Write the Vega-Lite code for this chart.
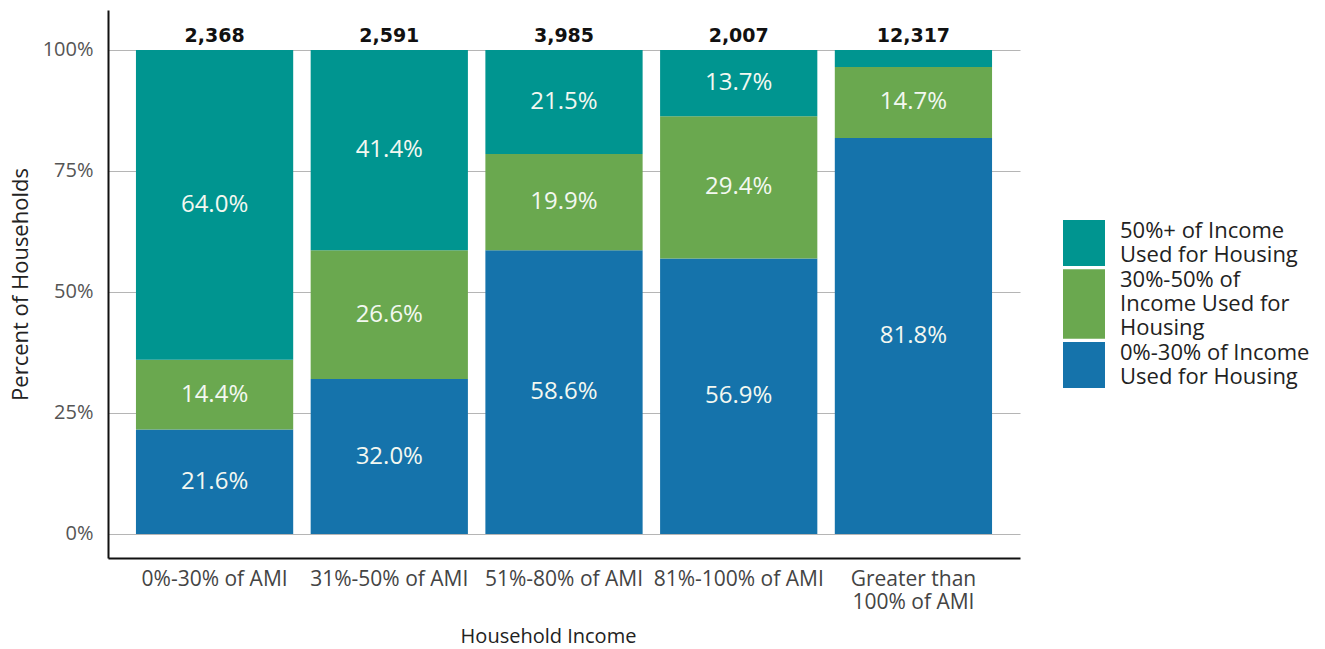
{
  "$schema": "https://vega.github.io/schema/vega-lite/v6.json",
  "width": 912,
  "height": 548,
  "autosize": {"type": "pad"},
  "padding": {"left": 9, "top": 10, "right": 5, "bottom": 5},
  "background": "white",
  "config": {"font": "Open Sans", "view": {"stroke": null}},
  "datasets": {
    "shares": [
      {"income": "0%-30% of AMI", "burden": "0%-30% of Income Used for Housing", "pct": 21.6},
      {"income": "0%-30% of AMI", "burden": "30%-50% of Income Used for Housing", "pct": 14.4},
      {"income": "0%-30% of AMI", "burden": "50%+ of Income Used for Housing", "pct": 64.0},
      {"income": "31%-50% of AMI", "burden": "0%-30% of Income Used for Housing", "pct": 32.0},
      {"income": "31%-50% of AMI", "burden": "30%-50% of Income Used for Housing", "pct": 26.6},
      {"income": "31%-50% of AMI", "burden": "50%+ of Income Used for Housing", "pct": 41.4},
      {"income": "51%-80% of AMI", "burden": "0%-30% of Income Used for Housing", "pct": 58.6},
      {"income": "51%-80% of AMI", "burden": "30%-50% of Income Used for Housing", "pct": 19.9},
      {"income": "51%-80% of AMI", "burden": "50%+ of Income Used for Housing", "pct": 21.5},
      {"income": "81%-100% of AMI", "burden": "0%-30% of Income Used for Housing", "pct": 56.9},
      {"income": "81%-100% of AMI", "burden": "30%-50% of Income Used for Housing", "pct": 29.4},
      {"income": "81%-100% of AMI", "burden": "50%+ of Income Used for Housing", "pct": 13.7},
      {"income": "Greater than 100% of AMI", "burden": "0%-30% of Income Used for Housing", "pct": 81.8},
      {"income": "Greater than 100% of AMI", "burden": "30%-50% of Income Used for Housing", "pct": 14.7},
      {"income": "Greater than 100% of AMI", "burden": "50%+ of Income Used for Housing", "pct": 3.5}
    ],
    "totals": [
      {"income": "0%-30% of AMI", "total": 2368},
      {"income": "31%-50% of AMI", "total": 2591},
      {"income": "51%-80% of AMI", "total": 3985},
      {"income": "81%-100% of AMI", "total": 2007},
      {"income": "Greater than 100% of AMI", "total": 12317}
    ]
  },
  "layer": [
    {
      "data": {"name": "shares"},
      "transform": [
        {"calculate": "indexof(['0%-30% of Income Used for Housing','30%-50% of Income Used for Housing','50%+ of Income Used for Housing'], datum.burden)", "as": "stackOrder"},
        {"stack": "pct", "groupby": ["income"], "sort": [{"field": "stackOrder", "order": "ascending"}], "as": ["y0", "y1"]}
      ],
      "mark": {"type": "bar"},
      "encoding": {
        "x": {
          "field": "income", "type": "nominal", "sort": null,
          "scale": {"paddingInner": 0.1, "paddingOuter": 0.16},
          "axis": {
            "title": "Household Income",
            "titleX": 440,
            "labelAngle": 0,
            "labelFontSize": 21,
            "labelColor": "#444",
            "labelPadding": 10,
            "labelLineHeight": 23,
            "labelExpr": "datum.label == 'Greater than 100% of AMI' ? ['Greater than', '100% of AMI'] : datum.label",
            "labelLimit": 300,
            "ticks": false,
            "domainColor": "#111",
            "domainWidth": 2,
            "titleFontSize": 20,
            "titleFontWeight": "normal",
            "titleColor": "#222",
            "titlePadding": 14
          }
        },
        "y": {
          "field": "y0", "type": "quantitative",
          "scale": {"domain": [-4.96, 108.26], "nice": false, "zero": false},
          "axis": {
            "title": "Percent of Households",
            "values": [0, 25, 50, 75, 100],
            "labelExpr": "datum.value + '%'",
            "labelFontSize": 20,
            "labelColor": "#555",
            "labelPadding": 15,
            "ticks": false,
            "domainColor": "#111",
            "domainWidth": 2,
            "gridColor": "#b5b5b5",
            "gridWidth": 1,
            "titleFontSize": 22,
            "titleFontWeight": "normal",
            "titleColor": "#222",
            "titlePadding": 10
          }
        },
        "y2": {"field": "y1"},
        "color": {
          "field": "burden", "type": "nominal",
          "scale": {
            "domain": ["50%+ of Income Used for Housing", "30%-50% of Income Used for Housing", "0%-30% of Income Used for Housing"],
            "range": ["#009590", "#6aa84f", "#1573ab"]
          },
          "legend": {
            "title": null,
            "orient": "none",
            "legendX": 955,
            "legendY": 212,
            "labelFontSize": 22,
            "labelColor": "#222",
            "labelLimit": 400,
            "labelOffset": 15,
            "labelLineHeight": 24,
            "symbolSize": 1764,
            "symbolStrokeWidth": 0,
            "symbolOpacity": 1,
            "rowPadding": 2,
            "labelExpr": "datum.label == '50%+ of Income Used for Housing' ? ['50%+ of Income', 'Used for Housing'] : datum.label == '30%-50% of Income Used for Housing' ? ['30%-50% of', 'Income Used for', 'Housing'] : ['0%-30% of Income', 'Used for Housing']",
            "encode": {
              "symbols": {
                "update": {
                  "shape": {"signal": "datum.value == '30%-50% of Income Used for Housing' ? 'M-1,-1.66H1V1.66H-1Z' : 'M-1,-1.1H1V1.1H-1Z'"}
                }
              },
              "labels": {
                "update": {
                  "dy": {"signal": "datum.value == '30%-50% of Income Used for Housing' ? -24 : -12"}
                }
              }
            }
          }
        }
      }
    },
    {
      "data": {"name": "shares"},
      "transform": [
        {"calculate": "indexof(['0%-30% of Income Used for Housing','30%-50% of Income Used for Housing','50%+ of Income Used for Housing'], datum.burden)", "as": "stackOrder"},
        {"stack": "pct", "groupby": ["income"], "sort": [{"field": "stackOrder", "order": "ascending"}], "as": ["y0", "y1"]},
        {"calculate": "(datum.y0 + datum.y1) / 2", "as": "ymid"},
        {"calculate": "format(datum.pct, '.1f') + '%'", "as": "label"},
        {"filter": "datum.pct >= 5"}
      ],
      "mark": {"type": "text", "fontSize": 24, "color": "#f3f8f1", "baseline": "middle"},
      "encoding": {
        "x": {"field": "income", "type": "nominal", "sort": null},
        "y": {"field": "ymid", "type": "quantitative"},
        "text": {"field": "label"}
      }
    },
    {
      "data": {"name": "totals"},
      "mark": {"type": "text", "font": "DejaVu Sans", "fontSize": 19, "fontWeight": "bold", "color": "#111", "baseline": "middle", "dy": -14},
      "encoding": {
        "x": {"field": "income", "type": "nominal", "sort": null},
        "y": {"datum": 100, "type": "quantitative"},
        "text": {"field": "total", "type": "quantitative", "format": ","}
      }
    }
  ]
}
